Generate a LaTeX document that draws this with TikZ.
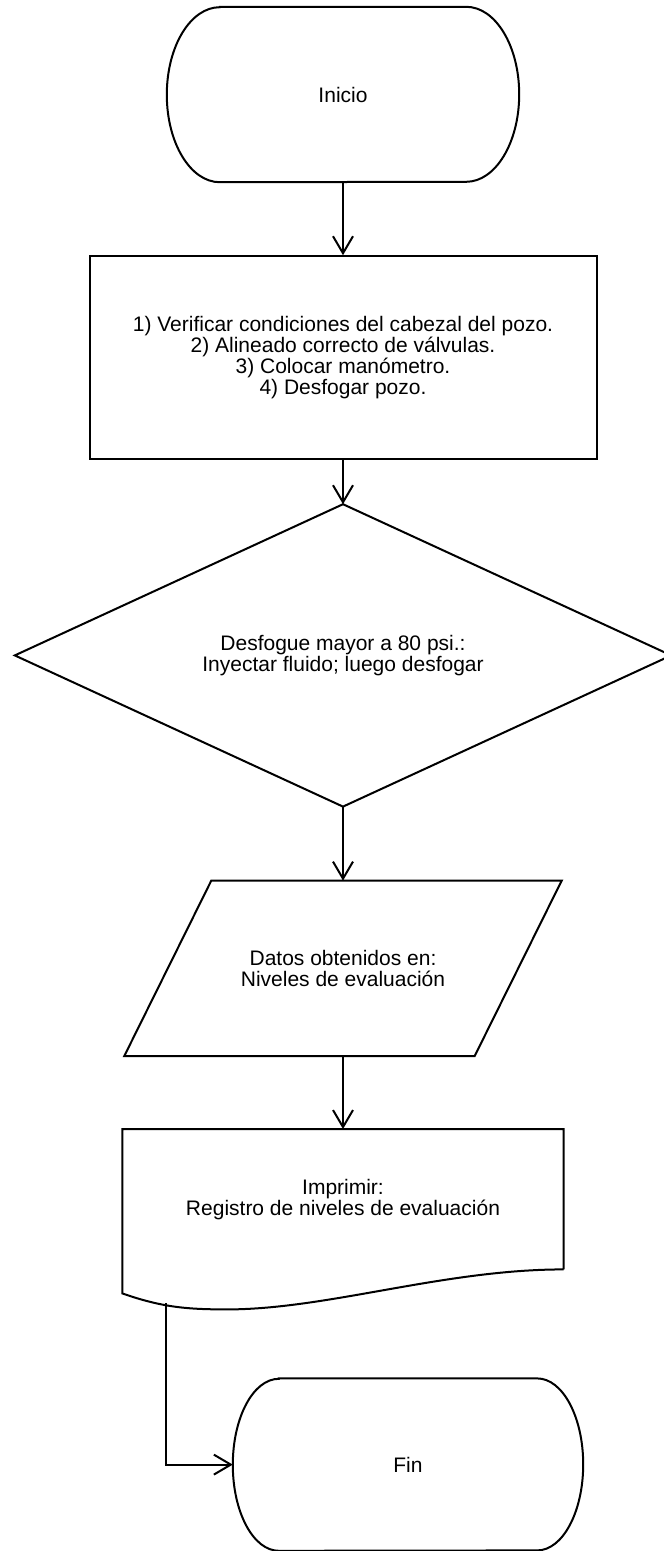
\documentclass[tikz,border=0pt]{standalone}
\usepackage{fontspec}
\setmainfont{Liberation Sans}
\usetikzlibrary{arrows.meta,positioning}
% outline of a terminal node: name, x radius and y radius of the round ends
\newcommand{\termline}[3]{%
  \draw[ln] ([xshift=#2]#1.north west) -- ([xshift=-#2]#1.north east)
    arc[start angle=90, end angle=-90, x radius=#2, y radius=#3]
    -- ([xshift=#2]#1.south west)
    arc[start angle=270, end angle=90, x radius=#2, y radius=#3] -- cycle;}
% outline of a decision node: its edge midpoints
\newcommand{\decline}[1]{%
  \draw[ln] (#1.north) -- (#1.east) -- (#1.south) -- (#1.west) -- cycle;}
% outline of a data node: name, slant of the sides
\newcommand{\ioline}[2]{%
  \draw[ln] ([xshift=#2]#1.north west) -- (#1.north east)
    -- ([xshift=-#2]#1.south east) -- (#1.south west) -- cycle;}

\begin{document}
\begin{tikzpicture}[font=\fontsize{21}{21}\selectfont, node distance=73pt,
  ln/.style={draw=black, line width=2pt},
  term/.style={minimum height=175pt, inner sep=0pt},
  proc/.style={ln, rectangle, minimum width=507pt, minimum height=203pt, align=center},
  dec/.style={minimum width=656pt, minimum height=302pt, inner sep=0pt, align=center},
  io/.style={minimum width=437pt, minimum height=175pt, inner sep=0pt, align=center},
  doc/.style={minimum width=441pt, minimum height=140pt, inner sep=0pt, align=center},
  arr/.style={line width=2pt, -{Straight Barb[length=17pt, width=20pt]}}]
\useasboundingbox (0,0) rectangle (664pt,-1551pt);
\node[term, minimum width=352pt] (start) at (343pt,-94.5pt) {Inicio};
\node[proc, below=of start] (prep) {1) Verificar condiciones del cabezal del pozo.\\2) Alineado correcto de válvulas.\\3) Colocar manómetro.\\4) Desfogar pozo.};
\node[dec, below=44pt of prep] (cond) {Desfogue mayor a 80 psi.:\\Inyectar fluido; luego desfogar};
\node[io, below=74pt of cond] (data) {Datos obtenidos en:\\Niveles de evaluación};
\node[doc, below=of data] (print) {Imprimir:\\Registro de niveles de evaluación};
\node[term, minimum width=350pt, minimum height=172pt, below=109pt of print, xshift=65pt] (stop) {Fin};
% outlines, the round ends and the wavy bottom of the printout
\termline{start}{53pt}{87.5pt}
\termline{stop}{46pt}{86pt}
\decline{cond}
\ioline{data}{87pt}
\draw[ln] (print.south east) -- (print.north east) -- (print.north west) -- ([yshift=-24pt]print.south west)
  .. controls +(40pt,-14pt) and +(-40pt,0pt) .. ([xshift=105pt,yshift=-40pt]print.south west)
  .. controls +(100pt,0pt) and +(-120pt,0pt) .. (print.south east);
\coordinate (tail) at ([xshift=44pt,yshift=-34pt]print.south west);
\draw[arr] (start) -- (prep);
\draw[arr] (prep) -- (cond);
\draw[arr] (cond) -- (data);
\draw[arr] (data) -- (print);
\draw[arr] (tail) |- (stop.west);
\end{tikzpicture}
\end{document}
